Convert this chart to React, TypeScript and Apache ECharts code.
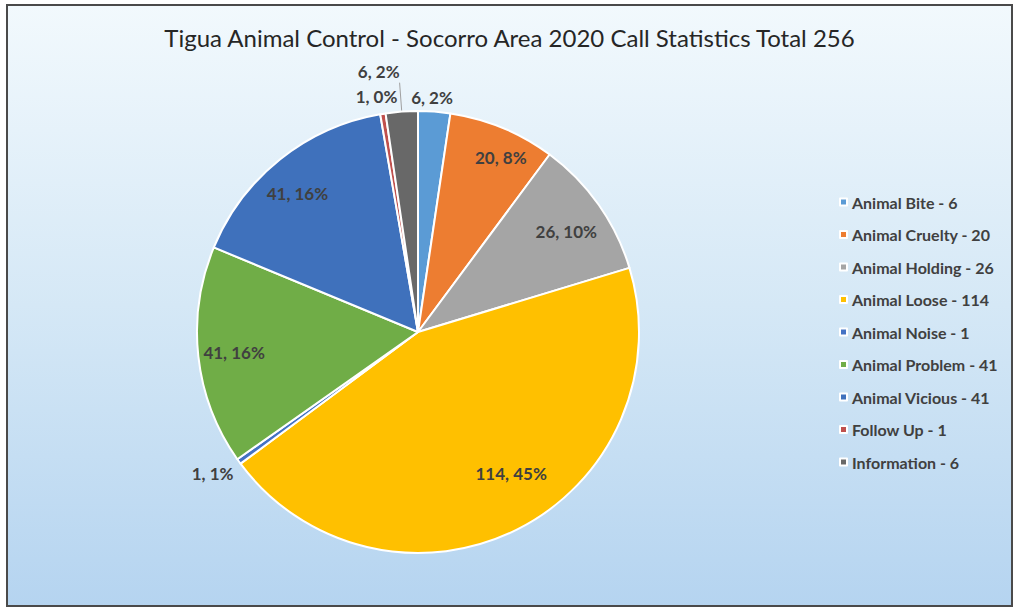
import React, { useEffect, useRef } from "react";
import * as echarts from "echarts";

const categories = [
  "Animal Bite",
  "Animal Cruelty",
  "Animal Holding",
  "Animal Loose",
  "Animal Noise",
  "Animal Problem",
  "Animal Vicious",
  "Follow Up",
  "Information",
];
const values = [6, 20, 26, 114, 1, 41, 41, 1, 6];
const pctLabels = ["2%", "8%", "10%", "45%", "1%", "16%", "16%", "0%", "2%"];
const colors = [
  "#5B9BD5",
  "#ED7D31",
  "#A5A5A5",
  "#FFC000",
  "#4472C4",
  "#70AD47",
  "#3F71BC",
  "#C0504D",
  "#686868",
];
const outsideLabel = [true, false, false, false, true, false, false, true, true];
const titleText = "Tigua Animal Control - Socorro Area 2020 Call Statistics Total 256";

// label nudges (layout only)
const outsideShift: Record<number, [number, number]> = {
  0: [-29, -2],
  4: [2, 10],
  7: [20, -14],
  8: [5, -11],
};
const insideShift: Record<number, [number, number]> = {
  1: [12, -4],
  2: [-3, 6],
  3: [10, -24],
  6: [-5, 6],
};

const FONT = "Lato, 'Open Sans', sans-serif";

export default function App() {
  const ref = useRef<HTMLDivElement>(null);
  useEffect(() => {
    if (!ref.current) return;
    const chart = echarts.init(ref.current, undefined, { renderer: "svg" });
    const legendNames = categories.map((c, i) => `${c} - ${values[i]}`);
    const fmt = (p: any) => `${values[p.dataIndex]}, ${pctLabels[p.dataIndex]}`;
    const mainData = categories.map((c, i) => ({
      name: legendNames[i],
      value: values[i],
      itemStyle: { color: colors[i] },
      label: { show: outsideLabel[i] },
      labelLine: {
        show: i === 8,
        length: i === 8 ? 29 : i === 0 ? 12 : 3,
        length2: 0,
      },
    }));
    const ringData = categories.map((c, i) => ({
      name: legendNames[i],
      value: values[i],
      itemStyle: { color: "rgba(0,0,0,0)" },
      label: { show: !outsideLabel[i] },
    }));
    const labelStyle = {
      fontFamily: FONT,
      fontSize: 17,
      fontWeight: "bold",
      color: "#404040",
    };
    chart.setOption({
      animation: false,
      textStyle: { fontFamily: FONT },
      title: {
        text: titleText,
        left: "center",
        top: 20,
        textStyle: {
          fontFamily: FONT,
          fontSize: 24,
          fontWeight: "normal",
          color: "#262626",
        },
      },
      graphic: [
        {
          type: "rect",
          z: -10,
          silent: true,
          shape: { x: 7, y: 5, width: 1005, height: 601 },
          style: {
            fill: new echarts.graphic.LinearGradient(0, 0, 0, 1, [
              { offset: 0, color: "#F2F9FD" },
              { offset: 0.5, color: "#D5E8F6" },
              { offset: 1, color: "#B5D4F0" },
            ]),
            stroke: "#4a4a4a",
            lineWidth: 2,
          },
        },
      ],
      legend: {
        orient: "vertical",
        left: 834,
        top: 188,
        itemWidth: 7,
        itemHeight: 7,
        itemGap: 14.5,
        icon: "rect",
        data: legendNames,
        textStyle: {
          fontFamily: FONT,
          fontSize: 16,
          fontWeight: "bold",
          color: "#404040",
          lineHeight: 18,
        },
      },
      series: [
        {
          type: "pie",
          center: [418, 332],
          radius: [0, 221],
          startAngle: 90,
          clockwise: true,
          avoidLabelOverlap: false,
          itemStyle: { borderColor: "#ffffff", borderWidth: 2 },
          label: {
            position: "outside",
            formatter: fmt,
            ...labelStyle,
          },
          labelLine: { lineStyle: { color: "#a0a0a0", width: 1 } },
          labelLayout: (p: any) => {
            const s = outsideShift[p.dataIndex];
            return s ? { dx: s[0], dy: s[1] } : {};
          },
          data: mainData,
        },
        {
          type: "pie",
          center: [418, 332],
          radius: [150, 214],
          startAngle: 90,
          clockwise: true,
          silent: true,
          legendHoverLink: false,
          avoidLabelOverlap: false,
          label: {
            position: "inside",
            formatter: fmt,
            ...labelStyle,
          },
          labelLine: { show: false },
          labelLayout: (p: any) => {
            const s = insideShift[p.dataIndex];
            return s ? { dx: s[0], dy: s[1] } : {};
          },
          data: ringData,
        },
      ],
    });
    return () => chart.dispose();
  }, []);
  return (
    <div
      ref={ref}
      style={{ position: "absolute", left: 0, top: 0, width: 1019, height: 609, background: "#ffffff" }}
    />
  );
}
